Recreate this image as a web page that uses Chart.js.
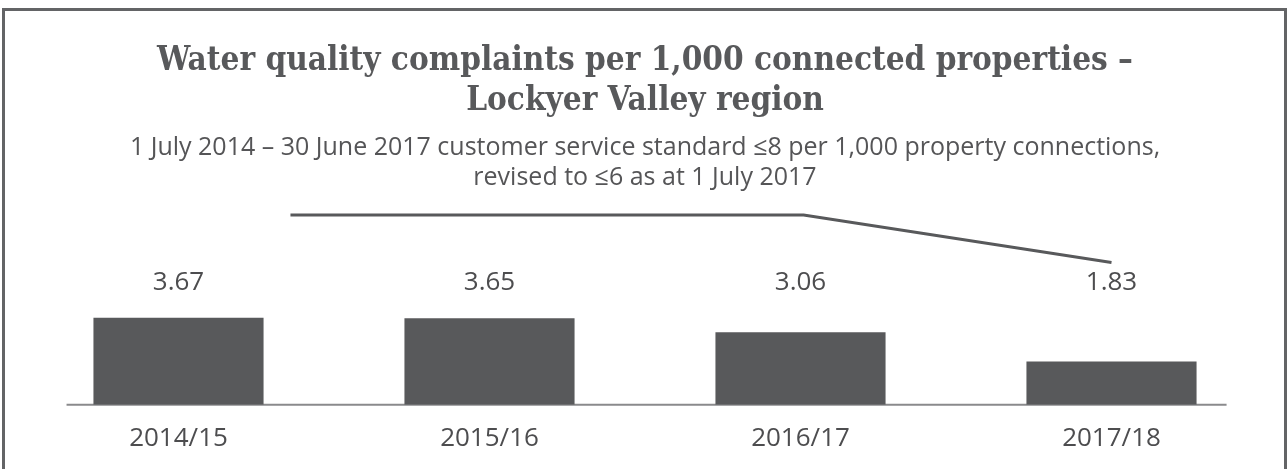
<!doctype html>
<html lang="en">
  <head>
    <meta charset="UTF-8" />
    <title>Water quality complaints</title>
    <style>
      html, body { margin: 0; padding: 0; background: #fff; }
      #wrap { position: relative; width: 1288px; height: 469px; overflow: hidden; }
      #frame {
        position: absolute; left: 2px; top: 8px; width: 1279px; height: 480px;
        border: 3px solid #636466; box-sizing: content-box; pointer-events: none;
      }
      canvas { position: absolute; left: 0; top: 0; }
    </style>
  </head>

  <body>
    <div id="wrap">
      <canvas id="chart" width="1288" height="469"></canvas>
      <div id="frame"></div>
    </div>

    <script src="https://cdn.jsdelivr.net/npm/chart.js@4"></script>

    <script>
      const categories = ['2014/15', '2015/16', '2016/17', '2017/18']
      const complaints = [3.67, 3.65, 3.06, 1.83]

      // customer service standard; x is the category index
      const standardX = [0.36, 2.01, 3.0]
      const standardY = [8, 8, 6]

      const titleLines = ['Water quality complaints per 1,000 connected properties –', 'Lockyer Valley region']
      const subtitleLines = [
        '1 July 2014 – 30 June 2017 customer service standard ≤8 per 1,000 property connections,',
        'revised to ≤6 as at 1 July 2017',
      ]

      const INK = '#58595b'
      const TEXT_FONT = '"Open Sans", "DejaVu Sans Condensed", sans-serif'
      const TITLE_FONT = '"DejaVu Serif Condensed", "DejaVu Sans Condensed", serif'

      // value labels sit in one row, at this value on the y axis
      const LABEL_LEVEL = 5.15

      const valueLabels = {
        id: 'valueLabels',
        afterDatasetsDraw(chart) {
          const { ctx, scales } = chart
          const meta = chart.getDatasetMeta(0)
          ctx.save()
          ctx.fillStyle = '#4d4d4f'
          ctx.font = `26px ${TEXT_FONT}`
          ctx.textAlign = 'center'
          ctx.textBaseline = 'middle'
          meta.data.forEach((bar, i) => {
            ctx.fillText(complaints[i].toFixed(2), bar.x, scales.y.getPixelForValue(LABEL_LEVEL))
          })
          ctx.restore()
        },
      }

      // the baseline only runs part way across, like the original
      const baseline = {
        id: 'baseline',
        beforeDatasetsDraw(chart) {
          const { ctx, scales } = chart
          const y = scales.y.getPixelForValue(0)
          ctx.save()
          ctx.strokeStyle = '#8a8a8c'
          ctx.lineWidth = 2
          ctx.beginPath()
          ctx.moveTo(scales.x.getPixelForValue(-0.36), y)
          ctx.lineTo(scales.x.getPixelForValue(3.37), y)
          ctx.stroke()
          ctx.restore()
        },
      }

      new Chart(document.getElementById('chart'), {
        type: 'bar',
        data: {
          datasets: [
            {
              label: 'Complaints per 1,000 connections',
              data: complaints.map((v, i) => ({ x: i, y: v })),
              backgroundColor: INK,
              grouped: false,
              categoryPercentage: 1,
              barPercentage: 0.547,
              order: 2,
            },
            {
              type: 'line',
              label: 'Customer service standard',
              data: standardX.map((x, i) => ({ x, y: standardY[i] })),
              borderColor: INK,
              borderWidth: 3,
              pointRadius: 0,
              tension: 0,
              fill: false,
              order: 1,
            },
          ],
        },
        options: {
          responsive: false,
          animation: false,
          layout: { padding: { left: 23, right: 21, top: 0, bottom: -3 } },
          plugins: {
            legend: { display: false },
            tooltip: { enabled: false },
            title: {
              display: true,
              text: titleLines,
              color: INK,
              font: { family: TITLE_FONT, size: 33, weight: 'bold' },
              lineHeight: 1.24,
              padding: { top: 42, bottom: 12 },
            },
            subtitle: {
              display: true,
              text: subtitleLines,
              color: '#555557',
              font: { family: TEXT_FONT, size: 25 },
              lineHeight: 1.26,
              padding: { top: 0, bottom: 10 },
            },
          },
          scales: {
            x: {
              type: 'linear',
              min: -0.5,
              max: 3.5,
              offset: false,
              grid: { display: false, drawTicks: false, offset: false },
              border: { display: false },
              afterBuildTicks: (scale) => {
                scale.ticks = categories.map((c, i) => ({ value: i }))
              },
              ticks: {
                color: '#4d4d4f',
                font: { family: TEXT_FONT, size: 26 },
                padding: 18,
                maxRotation: 0,
                autoSkip: false,
                callback: (value) => categories[value],
              },
            },
            y: {
              display: false,
              min: 0,
              max: 8.5,
            },
          },
        },
        plugins: [baseline, valueLabels],
      })
    </script>
  </body>
</html>
